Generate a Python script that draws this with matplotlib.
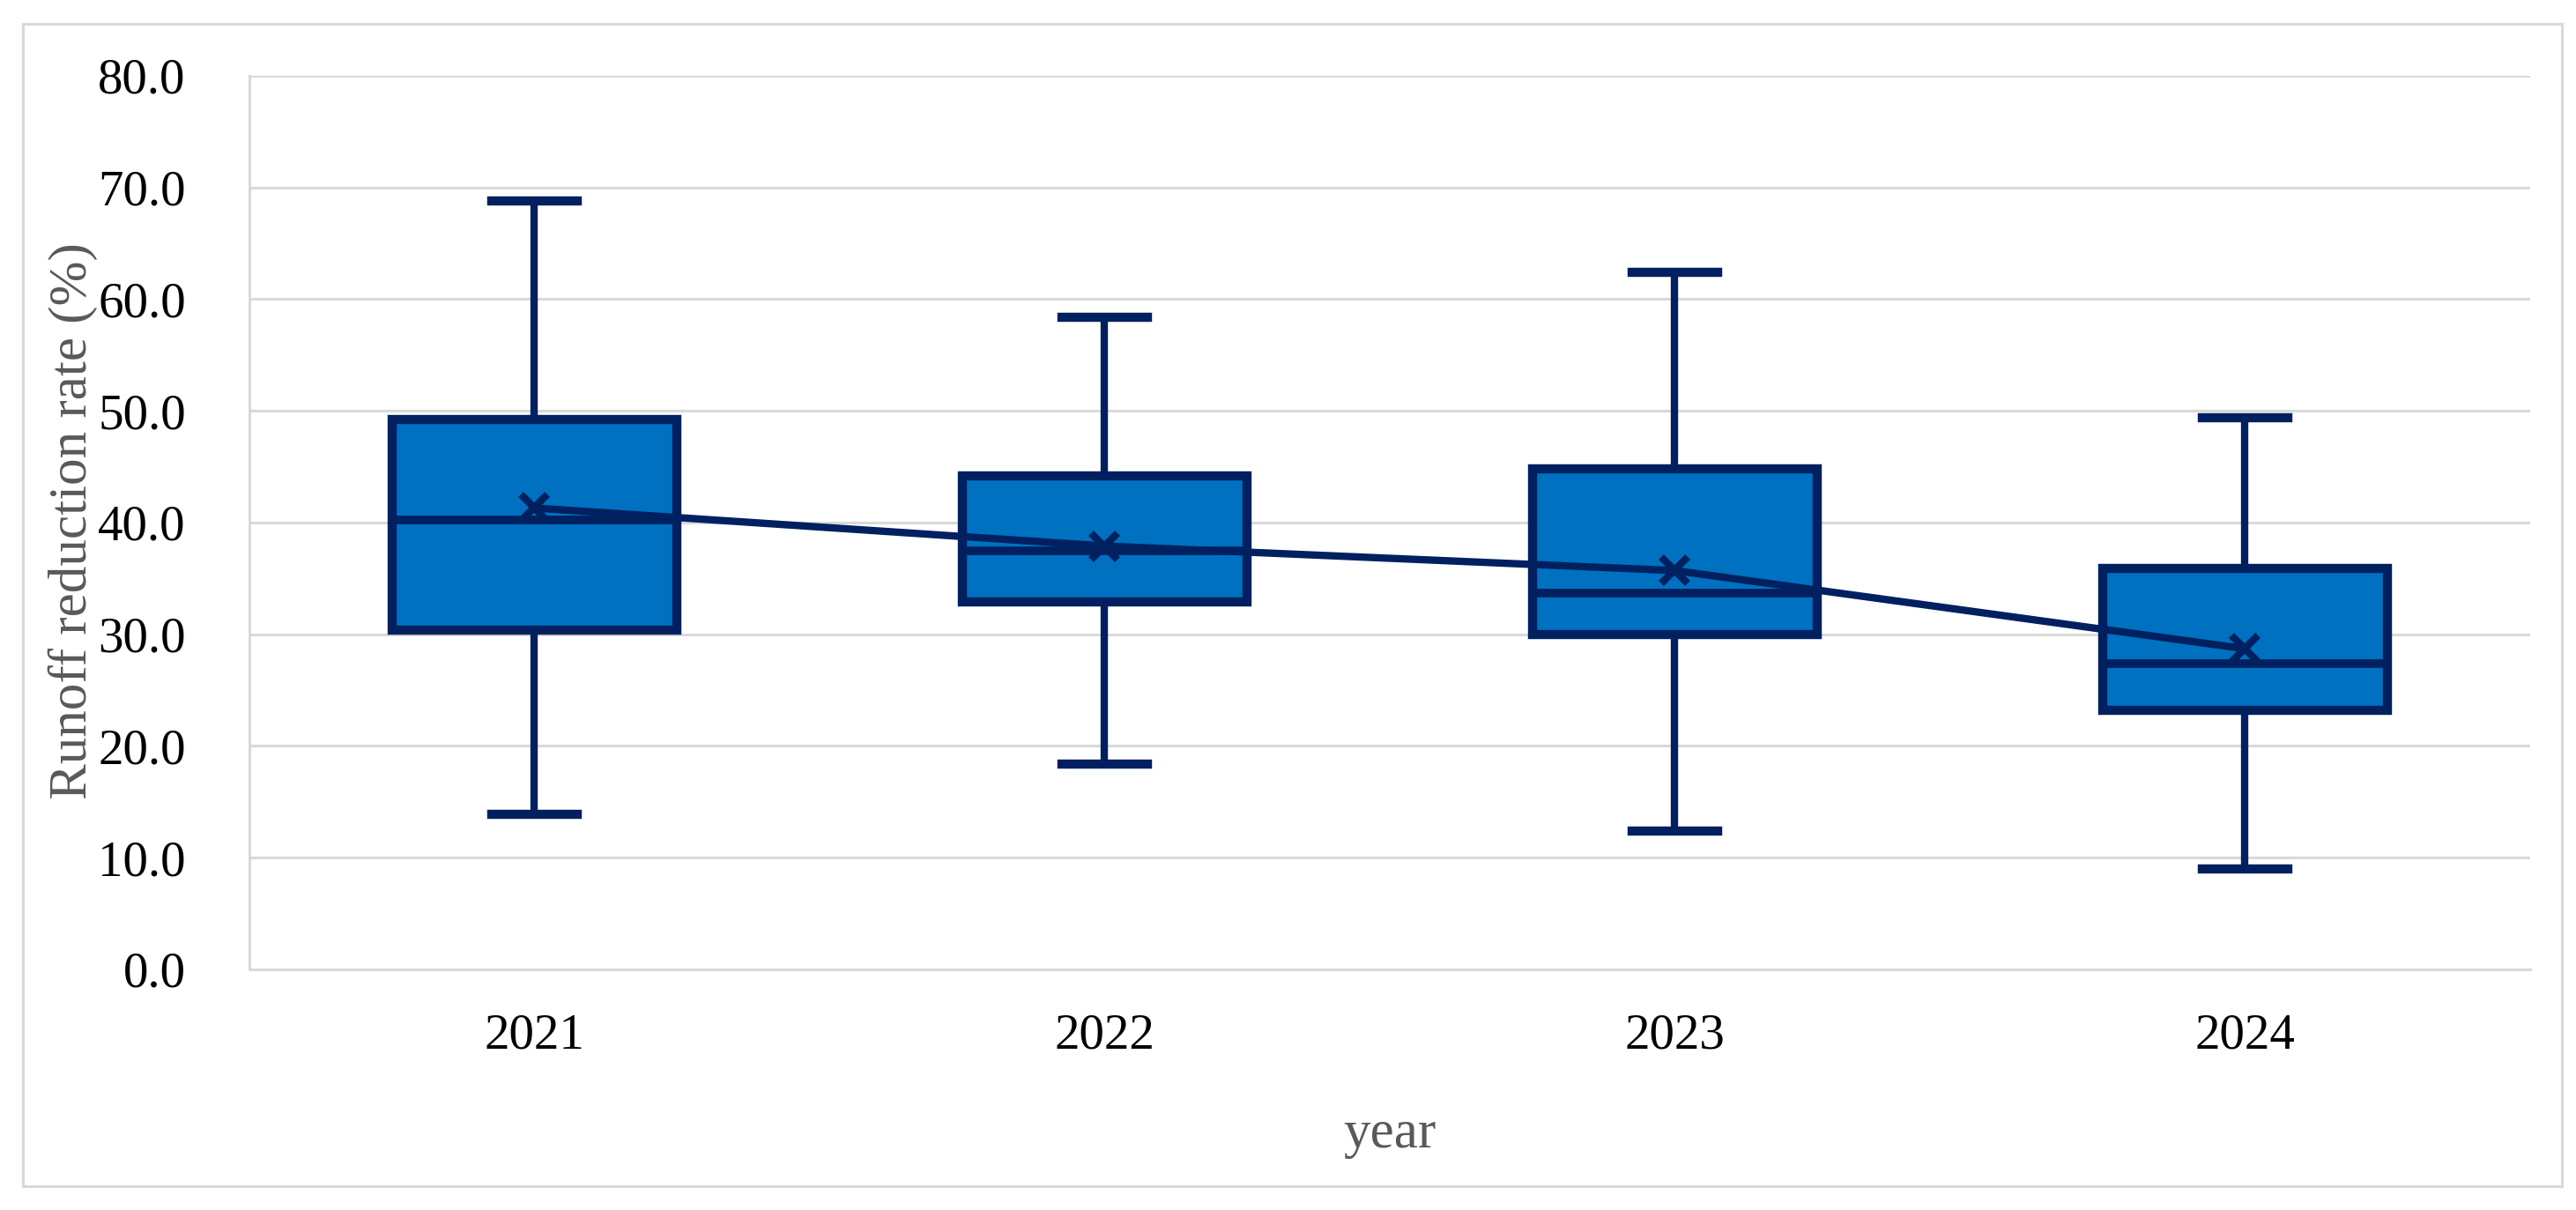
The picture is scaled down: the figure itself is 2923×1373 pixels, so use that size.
import matplotlib
matplotlib.use("Agg")
import matplotlib.pyplot as plt
from matplotlib.patches import Rectangle

# box statistics per year
years = ["2021", "2022", "2023", "2024"]
whis_hi = [68.8, 58.4, 62.4, 49.4]
q3 = [49.2, 44.2, 44.8, 35.9]
medians = [40.2, 37.5, 33.7, 27.4]
means = [41.3, 37.9, 35.7, 28.7]
q1 = [30.4, 32.9, 30.0, 23.2]
whis_lo = [13.9, 18.4, 12.4, 9.0]

y_ticks = [0, 10, 20, 30, 40, 50, 60, 70, 80]

FILL = "#0070C0"
EDGE = "#002060"
GRID = "#D9D9D9"
SERIF = "Liberation Serif"

fig = plt.figure(figsize=(29.23, 13.73), dpi=100)
fig.patch.set_facecolor("white")
ax = fig.add_axes([0.0968, 0.1989, 0.8854, 0.7385])

stats = []
for i in range(len(years)):
    stats.append({
        "label": years[i],
        "whislo": whis_lo[i],
        "q1": q1[i],
        "med": medians[i],
        "q3": q3[i],
        "whishi": whis_hi[i],
        "mean": means[i],
        "fliers": [],
    })

positions = list(range(len(years)))
ax.bxp(stats, positions=positions, widths=0.5, capwidths=0.15,
       patch_artist=True, showfliers=False, showmeans=False,
       boxprops=dict(facecolor=FILL, edgecolor=EDGE, linewidth=7.5),
       whiskerprops=dict(color=EDGE, linewidth=6.0),
       capprops=dict(color=EDGE, linewidth=7.5),
       medianprops=dict(color=EDGE, linewidth=7.0))

# mean trend line with x markers
ax.plot(positions, means, color=EDGE, linewidth=6.0, marker="x",
        markersize=22, markeredgewidth=6, zorder=5)

ax.set_xlim(-0.5, 3.5)
ax.set_ylim(0, 80)
ax.set_yticks(y_ticks)
ax.set_yticklabels([f"{v:.1f}" for v in y_ticks])
ax.set_xticks(positions)
ax.set_xticklabels(years)

ax.grid(axis="y", color=GRID, linewidth=2.2)
ax.set_axisbelow(True)
for side in ["top", "right"]:
    ax.spines[side].set_visible(False)
for side in ["left", "bottom"]:
    ax.spines[side].set_color(GRID)
    ax.spines[side].set_linewidth(2.2)

ax.tick_params(axis="both", length=0, labelsize=41)
ax.tick_params(axis="y", pad=52)
ax.tick_params(axis="x", pad=36)
for lab in ax.get_xticklabels() + ax.get_yticklabels():
    lab.set_family(SERIF)
    lab.set_color("black")

fig.text(0.0284, 0.5696, "Runoff reduction rate (%)", rotation=90,
         ha="center", va="center", fontsize=44, family=SERIF, color="#595959")
fig.text(0.0968 + 0.8854 / 2, 0.0517, "year", ha="center", va="baseline",
         fontsize=44, family=SERIF, color="#595959")

# light outer frame around the chart
fig.patches.append(Rectangle((0.0089, 0.0197), 0.9856, 0.9606,
                             transform=fig.transFigure, fill=False,
                             edgecolor=GRID, linewidth=2.2))

fig.savefig("out.png", dpi=100)
